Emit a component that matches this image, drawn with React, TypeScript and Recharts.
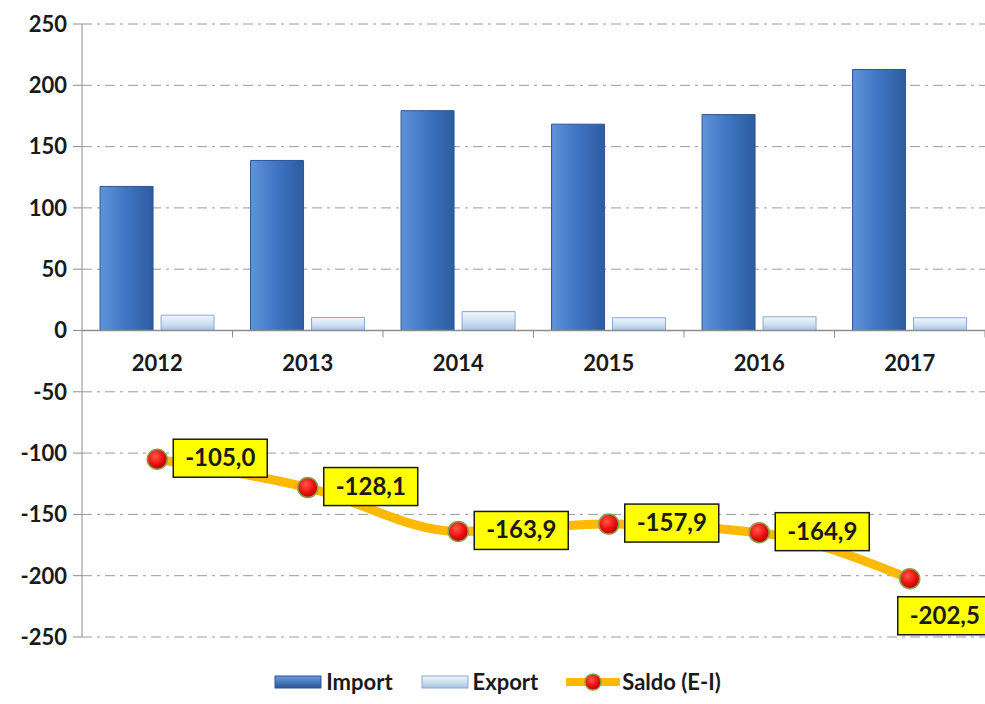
import React from 'react';
import {
  ComposedChart,
  Bar,
  Line,
  XAxis,
  YAxis,
  CartesianGrid,
  ReferenceLine,
  Legend,
  LabelList,
} from 'recharts';

const years = ['2012', '2013', '2014', '2015', '2016', '2017'];
const importValues = [117.5, 138.7, 179.3, 168.3, 176.1, 212.9];
const exportValues = [12.5, 10.6, 15.4, 10.4, 11.2, 10.4];
const saldoValues = [-105.0, -128.1, -163.9, -157.9, -164.9, -202.5];
const yTicks = [250, 200, 150, 100, 50, 0, -50, -100, -150, -200, -250];

const FONT = 'Lato, "Open Sans", sans-serif';

const chartData = years.map((year, i) => ({
  year,
  import: importValues[i],
  export: exportValues[i],
  saldo: saldoValues[i],
}));

const fmt = (v: number) => v.toFixed(1).replace('.', ',');

// year labels + small tick marks drawn along the zero line
const renderYearAxis = (props: any) => {
  const { x, y, width } = props.viewBox;
  const band = width / years.length;
  return (
    <g>
      {years.map((year, i) => (
        <g key={year}>
          <line x1={x + band * (i + 1)} x2={x + band * (i + 1)} y1={y} y2={y + 7} stroke="#8c8c8c" />
          <text
            x={x + band * (i + 0.5)}
            y={y + 40}
            textAnchor="middle"
            fontFamily={FONT}
            fontWeight="bold"
            fontSize={22}
            fill="#1a1a1a"
          >
            {year}
          </text>
        </g>
      ))}
    </g>
  );
};

const SaldoDot = (props: any) => {
  const { cx, cy } = props;
  if (cx == null || cy == null) return null;
  return <circle cx={cx} cy={cy} r={10} fill="url(#redDot)" stroke="#8aa04a" strokeWidth={1.5} />;
};

const SaldoLabel = (props: any) => {
  const { x, y, value, index } = props;
  const text = fmt(value);
  const w = 16 + text.length * 13;
  const h = 38;
  const last = index === saldoValues.length - 1;
  const bx = last ? x - 12 : x + 16;
  const by = last ? y + 18 : y - 20;
  return (
    <g>
      <rect x={bx} y={by} width={w} height={h} fill="#ffff00" stroke="#1a1a1a" strokeWidth={1.5} />
      <text
        x={bx + w / 2}
        y={by + h / 2 + 8}
        textAnchor="middle"
        fontFamily={FONT}
        fontWeight="bold"
        fontSize={24}
        fill="#1a1a1a"
      >
        {text}
      </text>
    </g>
  );
};

const LegendContent = () => (
  <div
    style={{
      display: 'flex',
      justifyContent: 'center',
      alignItems: 'center',
      gap: 28,
      fontFamily: FONT,
      fontWeight: 'bold',
      fontSize: 22,
      color: '#1a1a1a',
      paddingLeft: 10,
    }}
  >
    <span style={{ display: 'flex', alignItems: 'center', gap: 4 }}>
      <svg width={48} height={16}>
        <rect x={1} y={2} width={46} height={12} fill="url(#importLeg)" stroke="#2a5597" />
      </svg>
      Import
    </span>
    <span style={{ display: 'flex', alignItems: 'center', gap: 4 }}>
      <svg width={48} height={16}>
        <rect x={1} y={2} width={46} height={12} fill="url(#exportLeg)" stroke="#8aa8cf" />
      </svg>
      Export
    </span>
    <span style={{ display: 'flex', alignItems: 'center', gap: 2 }}>
      <svg width={54} height={22}>
        <line x1={2} x2={52} y1={11} y2={11} stroke="#ffb900" strokeWidth={8} strokeLinecap="round" />
        <circle cx={27} cy={11} r={8} fill="url(#redDot)" stroke="#8aa04a" strokeWidth={1.5} />
      </svg>
      Saldo (E-I)
    </span>
  </div>
);

const App: React.FC = () => {
  return (
    <div style={{ position: 'absolute', left: 0, top: 0, width: 985, height: 704, background: '#fff' }}>
      <svg width={0} height={0} style={{ position: 'absolute' }}>
        <defs>
          <linearGradient id="importLeg" x1="0" y1="0" x2="0" y2="1">
            <stop offset="0%" stopColor="#6b9be0" />
            <stop offset="100%" stopColor="#2a5597" />
          </linearGradient>
          <linearGradient id="exportLeg" x1="0" y1="0" x2="0" y2="1">
            <stop offset="0%" stopColor="#f2f7fd" />
            <stop offset="100%" stopColor="#a9c3e3" />
          </linearGradient>
          <radialGradient id="redDot" cx="40%" cy="35%" r="65%">
            <stop offset="0%" stopColor="#ff5a4a" />
            <stop offset="60%" stopColor="#ee1111" />
            <stop offset="100%" stopColor="#b80000" />
          </radialGradient>
        </defs>
      </svg>
      <ComposedChart
        width={985}
        height={704}
        data={chartData}
        margin={{ top: 24, right: 0, bottom: 31, left: 0 }}
        barCategoryGap="12%"
        barGap={8}
      >
        <defs>
          <linearGradient id="importFill" x1="0" y1="0" x2="1" y2="0">
            <stop offset="0%" stopColor="#5f93da" />
            <stop offset="50%" stopColor="#3e74c2" />
            <stop offset="100%" stopColor="#2d5c9f" />
          </linearGradient>
          <linearGradient id="exportFill" x1="0" y1="0" x2="0" y2="1">
            <stop offset="0%" stopColor="#f2f7fd" />
            <stop offset="50%" stopColor="#d2e2f4" />
            <stop offset="100%" stopColor="#a9c3e3" />
          </linearGradient>
        </defs>
        <CartesianGrid vertical={false} stroke="#9a9a9a" strokeDasharray="10 5 3 5" />
        <XAxis dataKey="year" hide />
        <YAxis
          domain={[-250, 250]}
          ticks={yTicks}
          interval={0}
          width={82}
          tickSize={9}
          tickMargin={6}
          axisLine={{ stroke: '#8c8c8c' }}
          tickLine={{ stroke: '#8c8c8c' }}
          tick={{ fontFamily: FONT, fontWeight: 'bold', fontSize: 22, fill: '#1a1a1a' }}
        />
        <Legend verticalAlign="bottom" height={36} wrapperStyle={{ bottom: 0 }} content={<LegendContent />} />
        <Bar dataKey="import" name="Import" fill="url(#importFill)" stroke="#2a5597" isAnimationActive={false} />
        <Bar dataKey="export" name="Export" fill="url(#exportFill)" stroke="#8aa8cf" isAnimationActive={false} />
        <ReferenceLine y={0} stroke="#8c8c8c" strokeWidth={1.5} label={renderYearAxis} />
        <Line
          dataKey="saldo"
          name="Saldo (E-I)"
          type="monotone"
          stroke="#ffb900"
          strokeWidth={9}
          dot={<SaldoDot />}
          activeDot={false}
          isAnimationActive={false}
        >
          <LabelList dataKey="saldo" content={<SaldoLabel />} />
        </Line>
      </ComposedChart>
    </div>
  );
};

export default App;
